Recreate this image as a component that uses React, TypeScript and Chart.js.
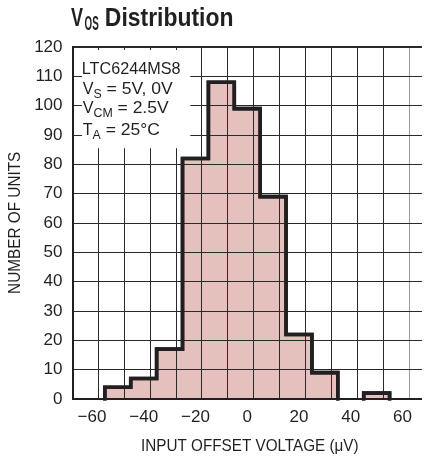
import React, { useEffect, useRef } from 'react';
import { Chart, registerables } from 'chart.js';

Chart.register(...registerables);

// ---- data ----
const binStarts = [-55, -45, -35, -25, -15, -5, 5, 15, 25, 35, 45];
const binWidth = 10;
const unitCounts = [4, 7, 17, 82, 108, 99, 69, 22, 9, 0, 2];
const xLabelValues = [-60, -40, -20, 0, 20, 40, 60];
const xMin = -65;
const xMax = 65;
const yMin = 0;
const yMax = 120;
const yStep = 10;

const titleMain = 'V';
const titleSub = 'OS';
const titleRest = 'Distribution';
const legendFirst = 'LTC6244MS8';
const legendMains = ['V', 'V', 'T'];
const legendSubs = ['S', 'CM', 'A'];
const legendRests = [' = 5V, 0V', ' = 2.5V', ' = 25°C'];
const xAxisTitle = 'INPUT OFFSET VOLTAGE (μV)';
const yAxisTitle = 'NUMBER OF UNITS';

const INK = '#231f20';
const FILL = '#e5c1bd';
const GRID = '#2a2a2a';
const SANS = '"Liberation Sans", Arial, sans-serif';

// draw text so that its ink spans `width` along the text direction, baseline at (x, y)
function fitText(
  ctx: CanvasRenderingContext2D,
  text: string,
  x: number,
  y: number,
  font: string,
  width: number,
  rotation = 0
) {
  ctx.save();
  ctx.font = font;
  ctx.textAlign = 'left';
  ctx.textBaseline = 'alphabetic';
  const m = ctx.measureText(text);
  const ink = m.actualBoundingBoxLeft + m.actualBoundingBoxRight;
  const sx = ink > 0 ? width / ink : 1;
  ctx.translate(x, y);
  if (rotation) ctx.rotate(rotation);
  ctx.translate(m.actualBoundingBoxLeft * sx, 0);
  ctx.scale(sx, 1);
  ctx.fillStyle = INK;
  ctx.fillText(text, 0, 0);
  ctx.restore();
}

// draw text with a horizontal squeeze, returns advance width
function squeezeText(ctx: CanvasRenderingContext2D, text: string, x: number, y: number, font: string, sx: number) {
  ctx.save();
  ctx.font = font;
  ctx.textAlign = 'left';
  ctx.textBaseline = 'alphabetic';
  const w = ctx.measureText(text).width * sx;
  ctx.translate(x, y);
  ctx.scale(sx, 1);
  ctx.fillStyle = INK;
  ctx.fillText(text, 0, 0);
  ctx.restore();
  return w;
}

export default function App() {
  const ref = useRef<HTMLCanvasElement | null>(null);

  useEffect(() => {
    const canvas = ref.current;
    if (!canvas) return;
    const tickFont = { family: SANS, size: 17 };

    const bars = binStarts.map((s, i) => ({ x: s + binWidth / 2, y: unitCounts[i] }));

    const outline: { x: number; y: number | null }[] = [];
    let inRun = false;
    binStarts.forEach((s, i) => {
      const c = unitCounts[i];
      const e = s + binWidth;
      if (c > 0) {
        if (!inRun) {
          outline.push({ x: s, y: 0 });
          inRun = true;
        }
        outline.push({ x: s, y: c }, { x: e, y: c });
        const next = unitCounts[i + 1];
        if (!(next > 0)) {
          outline.push({ x: e, y: 0 });
          outline.push({ x: e + 0.01, y: null });
          inRun = false;
        }
      }
    });

    const xTicks: number[] = [];
    for (let v = xMin; v <= xMax; v += 5) xTicks.push(v);

    const textPlugin = {
      id: 'texts',
      afterDraw(chart: any) {
        const ctx: CanvasRenderingContext2D = chart.ctx;
        // redraw outline on top of the grid
        chart.getDatasetMeta(1).controller.draw();

        // title
        fitText(ctx, titleMain, 71, 26, `bold 26px ${SANS}`, 12.5);
        fitText(ctx, titleSub, 84.5, 29.5, `bold 20px ${SANS}`, 14);
        fitText(ctx, titleRest, 105.7, 26, `bold 26px ${SANS}`, 127);

        // axis titles
        fitText(ctx, xAxisTitle, 142, 450.7, `17px ${SANS}`, 216);
        fitText(ctx, yAxisTitle, 19.5, 293, `17px ${SANS}`, 141, -Math.PI / 2);

        // legend box
        const xs = chart.scales.x;
        const ys = chart.scales.y;
        const left = xs.getPixelForValue(xMin) + 3;
        const top = ys.getPixelForValue(yMax) + 3;
        const right = xs.getPixelForValue(-22);
        const bottom = ys.getPixelForValue(85.5);
        ctx.save();
        ctx.fillStyle = '#ffffff';
        ctx.fillRect(left, top, right - left, bottom - top);
        ctx.restore();

        const f = `17px ${SANS}`;
        const fs = `13px ${SANS}`;
        fitText(ctx, legendFirst, 82.7, 74, f, 97.3);
        const mainBase = [94.3, 113.3, 135];
        const subBase = [97.8, 116.8, 138.8];
        legendMains.forEach((m, i) => {
          let x = 82.7;
          x += squeezeText(ctx, m, x, mainBase[i], f, 0.95);
          x += squeezeText(ctx, legendSubs[i], x, subBase[i], fs, 0.95);
          squeezeText(ctx, legendRests[i], x, mainBase[i], f, 1.03);
        });
      },
    };

    const chart = new Chart(canvas, {
      type: 'bar',
      data: {
        datasets: [
          {
            type: 'bar',
            data: bars as any,
            backgroundColor: FILL,
            borderWidth: 0,
            barPercentage: 1,
            categoryPercentage: 2.06,
            order: 1,
          },
          {
            type: 'line',
            data: outline as any,
            borderColor: INK,
            borderWidth: 3.6,
            pointRadius: 0,
            fill: false,
            spanGaps: false,
            borderJoinStyle: 'miter',
            borderCapStyle: 'square',
            tension: 0,
            order: 0,
          } as any,
        ],
      },
      plugins: [textPlugin],
      options: {
        responsive: false,
        maintainAspectRatio: false,
        animation: false,
        events: [],
        layout: { padding: { top: 47, left: 0, right: 1, bottom: 0 } },
        plugins: {
          legend: { display: false },
          tooltip: { enabled: false },
          title: { display: false },
        },
        scales: {
          x: {
            type: 'linear',
            position: 'bottom',
            min: xMin,
            max: xMax,
            z: 1,
            afterBuildTicks: (scale: any) => {
              scale.ticks = xTicks.map((v) => ({ value: v }));
            },
            afterFit: (scale: any) => {
              scale.height = 61;
            },
            ticks: {
              autoSkip: false,
              maxRotation: 0,
              minRotation: 0,
              padding: 8.5,
              color: INK,
              font: tickFont,
              callback: (v: any) => {
                const n = Number(v);
                if (!xLabelValues.includes(n)) return '';
                return n < 0 ? '\u2212' + Math.abs(n) : String(n);
              },
            },
            grid: {
              z: 1,
              drawTicks: false,
              color: (c: any) => {
                const v = c.tick ? c.tick.value : 0;
                if (v === xMax) return '#9a9a9a';
                if (v === xMin) return 'rgba(0,0,0,0)';
                if (Math.abs(v % 10) === 5) return GRID;
                return 'rgba(0,0,0,0)';
              },
              lineWidth: 1,
            },
            border: { display: true, color: INK, width: 2, z: 1 },
            title: { display: false },
          },
          y: {
            type: 'linear',
            min: yMin,
            max: yMax,
            z: 1,
            afterFit: (scale: any) => {
              scale.width = 72.5;
            },
            ticks: {
              stepSize: yStep,
              padding: 10,
              color: INK,
              font: tickFont,
            },
            grid: {
              z: 1,
              drawTicks: false,
              color: (c: any) => {
                const v = c.tick ? c.tick.value : 0;
                if (v === yMin) return 'rgba(0,0,0,0)';
                return GRID;
              },
              lineWidth: (c: any) => (c.tick && c.tick.value === yMax ? 2 : 1),
            },
            border: { display: true, color: INK, width: 2, z: 1 },
            title: { display: false },
          },
        },
      } as any,
    });

    return () => {
      chart.destroy();
    };
  }, []);

  return (
    <div style={{ position: 'absolute', left: 0, top: 0, width: 424, height: 460, background: '#ffffff' }}>
      <canvas ref={ref} width={424} height={460} style={{ display: 'block', width: 424, height: 460 }} />
    </div>
  );
}
